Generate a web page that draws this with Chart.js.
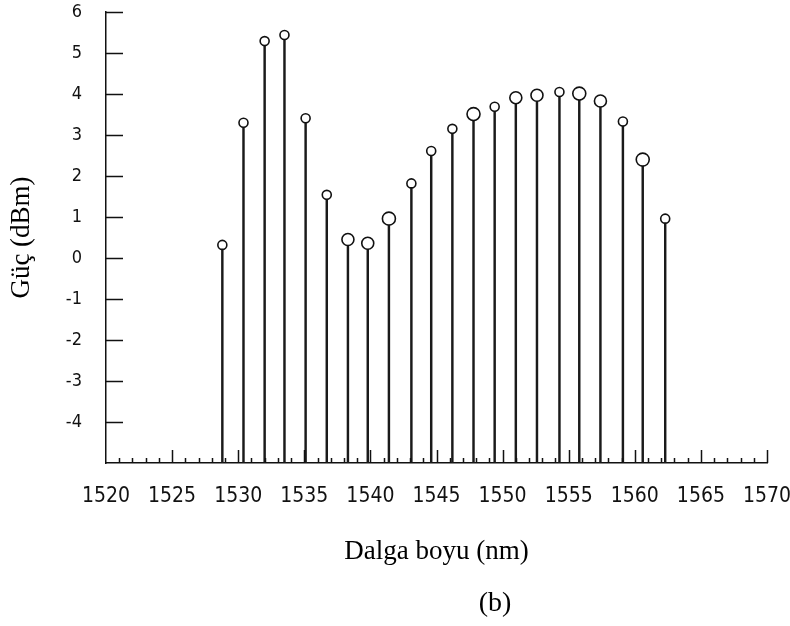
<!DOCTYPE html>
<html>
<head>
<meta charset="utf-8">
<script src="https://cdn.jsdelivr.net/npm/chart.js@4"></script>
<style>
  html, body { margin: 0; padding: 0; background: #fff; }
  #wrap { width: 790px; height: 626px; position: relative; }
</style>
</head>
<body>
<div id="wrap"><canvas id="myChart"></canvas></div>
<script>
// channel wavelengths (nm) and measured power (dBm)
var wavelengths = [1528.8, 1530.4, 1532.0, 1533.5, 1535.1, 1536.7, 1538.3, 1539.8, 1541.4, 1543.1, 1544.6,
                   1546.2, 1547.8, 1549.4, 1551.0, 1552.6, 1554.3, 1555.8, 1557.4, 1559.1, 1560.6, 1562.3];
var powerDbm = [0.32, 3.30, 5.29, 5.44, 3.41, 1.54, 0.45, 0.36, 0.96, 1.82, 2.61,
                3.15, 3.51, 3.69, 3.91, 3.97, 4.05, 4.01, 3.83, 3.33, 2.40, 0.96];
var xTickValues = [1520, 1525, 1530, 1535, 1540, 1545, 1550, 1555, 1560, 1565, 1570];
var yTickValues = [-4, -3, -2, -1, 0, 1, 2, 3, 4, 5, 6];
var yFloor = -5;

// marker radius per channel (the plot mixes two circle sizes)
var markerRadius = [4.5, 4.5, 4.5, 4.5, 4.5, 4.5, 6, 6, 6.5, 4.5, 4.5,
                    4.5, 6.5, 4.5, 6, 6, 4.5, 6.5, 6, 4.5, 6.5, 4.5];

var narrow = "'Liberation Sans Narrow', 'DejaVu Sans Condensed', sans-serif";
var serif = "'Liberation Serif', 'Times New Roman', serif";

var stems = wavelengths.map(function (w, i) { return { x: w, y: [yFloor, powerDbm[i]] }; });
var heads = wavelengths.map(function (w, i) { return { x: w, y: powerDbm[i] }; });

// small inward tick marks on both axes plus the (b) caption
var axisMarks = {
  id: 'axisMarks',
  afterDraw: function (chart) {
    var ctx = chart.ctx, x = chart.scales.x, y = chart.scales.y, a = chart.chartArea;
    ctx.save();
    ctx.strokeStyle = '#111';
    ctx.lineWidth = 1.5;
    ctx.beginPath();
    for (var nm = 1521; nm <= 1570; nm++) {
      var px = Math.round(x.getPixelForValue(nm)) + 0.5;
      var len = nm % 5 === 0 ? 13 : 5;
      ctx.moveTo(px, a.bottom);
      ctx.lineTo(px, a.bottom - len);
    }
    yTickValues.forEach(function (v) {
      var py = Math.round(y.getPixelForValue(v)) + 0.5;
      ctx.moveTo(a.left, py);
      ctx.lineTo(a.left + 17, py);
    });
    ctx.stroke();
    ctx.fillStyle = '#000';
    ctx.font = '28px ' + serif;
    ctx.textAlign = 'center';
    ctx.textBaseline = 'middle';
    ctx.fillText('(b)', 495, 604);
    ctx.restore();
  }
};

new Chart('myChart', {
  data: {
    datasets: [{
      type: 'bar',
      data: stems,
      backgroundColor: '#1a1a1a',
      barThickness: 1.8,
      order: 2
    }, {
      type: 'scatter',
      data: heads,
      pointStyle: 'circle',
      pointRadius: markerRadius,
      pointBackgroundColor: '#fff',
      pointBorderColor: '#111',
      pointBorderWidth: 1.6,
      order: 1
    }]
  },
  options: {
    responsive: true,
    maintainAspectRatio: false,
    animation: false,
    events: [],
    layout: { padding: { top: 12, right: 23, left: 0, bottom: 0 } },
    plugins: {
      legend: { display: false },
      tooltip: { enabled: false }
    },
    scales: {
      x: {
        type: 'linear',
        offset: false,
        min: 1520,
        max: 1570,
        afterBuildTicks: function (scale) {
          scale.ticks = xTickValues.map(function (v) { return { value: v }; });
        },
        afterFit: function (scale) {
          scale.height = 163;
          scale.paddingLeft = 0;
          scale.paddingRight = 0;
        },
        grid: { display: false, drawTicks: false },
        border: { display: true, color: '#111', width: 1.5 },
        ticks: {
          font: { family: narrow, size: 21 },
          color: '#111',
          padding: 21,
          maxRotation: 0,
          autoSkip: false,
          callback: function (v) { return String(v); }
        },
        title: {
          display: true,
          text: 'Dalga boyu (nm)',
          font: { family: serif, size: 27 },
          color: '#000',
          padding: { top: 0, bottom: 58 }
        }
      },
      y: {
        type: 'linear',
        min: yFloor,
        max: 6,
        afterBuildTicks: function (scale) {
          scale.ticks = yTickValues.map(function (v) { return { value: v }; });
        },
        afterFit: function (scale) {
          scale.width = 106;
          scale.paddingTop = 0;
          scale.paddingBottom = 0;
        },
        grid: { display: false, drawTicks: false },
        border: { display: true, color: '#111', width: 1.5 },
        ticks: {
          font: { family: narrow, size: 18 },
          color: '#111',
          padding: 24,
          callback: function (v) { return String(v); }
        },
        title: {
          display: true,
          text: 'Güç (dBm)',
          font: { family: serif, size: 27 },
          color: '#000',
          padding: { top: 6, bottom: 0 }
        }
      }
    }
  },
  plugins: [axisMarks]
});
</script>
</body>
</html>
